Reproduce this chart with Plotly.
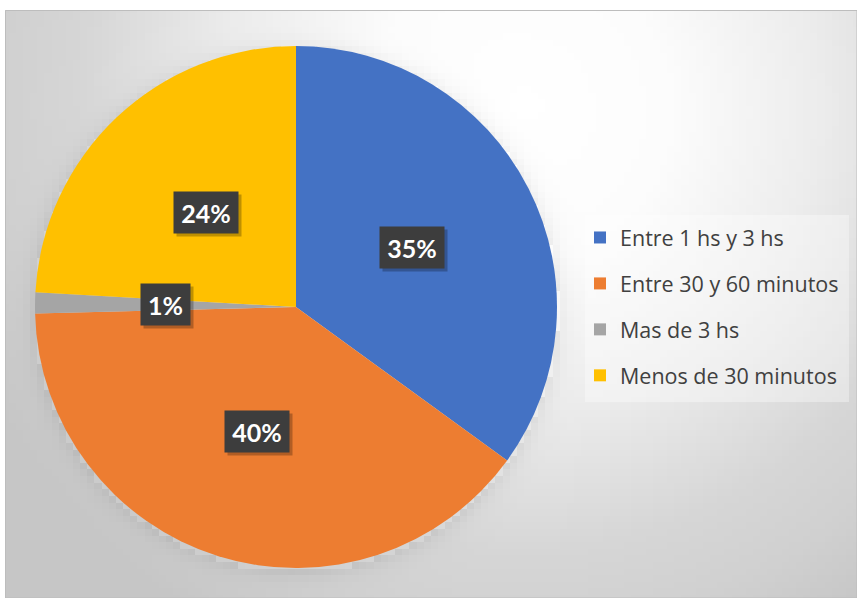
import numpy as np
import plotly.graph_objects as go

# ---- data ----
labels = ["Entre 1 hs y 3 hs", "Entre 30 y 60 minutos", "Mas de 3 hs", "Menos de 30 minutos"]
values = [35.0, 39.6, 1.3, 24.1]
colors = ["#4472C4", "#ED7D31", "#A5A5A5", "#FFC000"]

# ---- layout geometry (pixels) ----
W, H = 857, 599
L, T, R, B = 5, 10, 0, 1
PW, PH = W - L - R, H - T - B
PCX, PCY, PR = 296, 307, 261  # pie centre / radius in px

dom_x = [(PCX - PR - L) / PW, (PCX + PR - L) / PW]
dom_y = [(T + PH - (PCY + PR)) / PH, (T + PH - (PCY - PR)) / PH]

# ---- background gradient (decoration) ----
gx = np.linspace(L, W, 120)
gy = np.linspace(T, H - B, 90)
XX, YY = np.meshgrid(gx, gy)
d = np.hypot(XX - 520, YY - 110)
g = np.interp(d, [0, 150, 300, 440, 520, 600], [255, 252, 236, 214, 208, 198])
dp = np.hypot(XX - PCX, YY - (PCY + 3)) - PR
shadow = np.where(dp > 0, 16 * np.exp(-np.clip(dp, 0, None) / 9), 0)
g = g - shadow

fig = go.Figure()
fig.add_trace(go.Heatmap(x=gx, y=gy, z=g, zmin=170, zmax=255,
                         colorscale=[[0, "rgb(170,170,170)"], [1, "rgb(255,255,255)"]],
                         showscale=False, hoverinfo="skip"))

fig.add_trace(go.Pie(labels=labels, values=values, sort=False, direction="clockwise",
                     rotation=0, marker=dict(colors=colors, line=dict(width=0)),
                     textinfo="none", showlegend=False, domain=dict(x=dom_x, y=dom_y)))

# legend entries
for lab, col in zip(labels, colors):
    fig.add_trace(go.Scatter(x=[None], y=[None], mode="markers", name=lab, legendgroup=lab,
                             marker=dict(symbol="square", size=13, color=col)))

# ---- percentage labels ----
total = sum(values)
cum = 0.0
annotations = []
cxp = (dom_x[0] + dom_x[1]) / 2
cyp = (dom_y[0] + dom_y[1]) / 2
rlab = 0.5 * PR
for v in values:
    mid = (cum + v / 2) / total * 2 * np.pi
    cum += v
    ax = cxp + rlab * np.sin(mid) / PW
    ay = cyp + rlab * np.cos(mid) / PH
    txt = f"{v / total * 100:.0f}%"
    bw = 64 if len(txt) == 3 else 49
    annotations.append(dict(x=ax, y=ay, xref="paper", yref="paper", text=" ", showarrow=False,
                            xanchor="center", yanchor="middle", width=bw, height=41, borderpad=0,
                            bgcolor="rgba(0,0,0,0.25)", xshift=3, yshift=-3))
    annotations.append(dict(x=ax, y=ay, xref="paper", yref="paper", text=txt, showarrow=False,
                            xanchor="center", yanchor="middle", width=bw, height=41, borderpad=0,
                            font=dict(color="white", size=25, family="Lato", weight="bold"),
                            bgcolor="#3d3d3d"))

shapes = [
    dict(type="rect", xref="x", yref="y", x0=585, x1=849, y0=215, y1=402,
         fillcolor="rgba(255,255,255,0.35)", line=dict(width=0), layer="above"),
    dict(type="rect", xref="x", yref="y", x0=5.5, x1=857, y0=10.5, y1=598,
         fillcolor="rgba(0,0,0,0)", line=dict(color="#bdbdbd", width=1), layer="above"),
]

fig.update_layout(
    width=W, height=H,
    margin=dict(l=L, r=R, t=T, b=B, pad=0),
    paper_bgcolor="white", plot_bgcolor="white",
    xaxis=dict(range=[L, W], visible=False, fixedrange=True),
    yaxis=dict(range=[H - B, T], visible=False, fixedrange=True),
    showlegend=True,
    legend=dict(x=(580 - L) / PW, xanchor="left", y=(H - B - 217) / PH, yanchor="top",
                bgcolor="rgba(0,0,0,0)", font=dict(family="Open Sans", size=21.5, color="#404040"),
                tracegroupgap=15, itemsizing="constant"),
    annotations=annotations,
    shapes=shapes,
)

fig.write_html("out.html", config={"displayModeBar": False},
               post_script="document.body.style.margin='0px';")
